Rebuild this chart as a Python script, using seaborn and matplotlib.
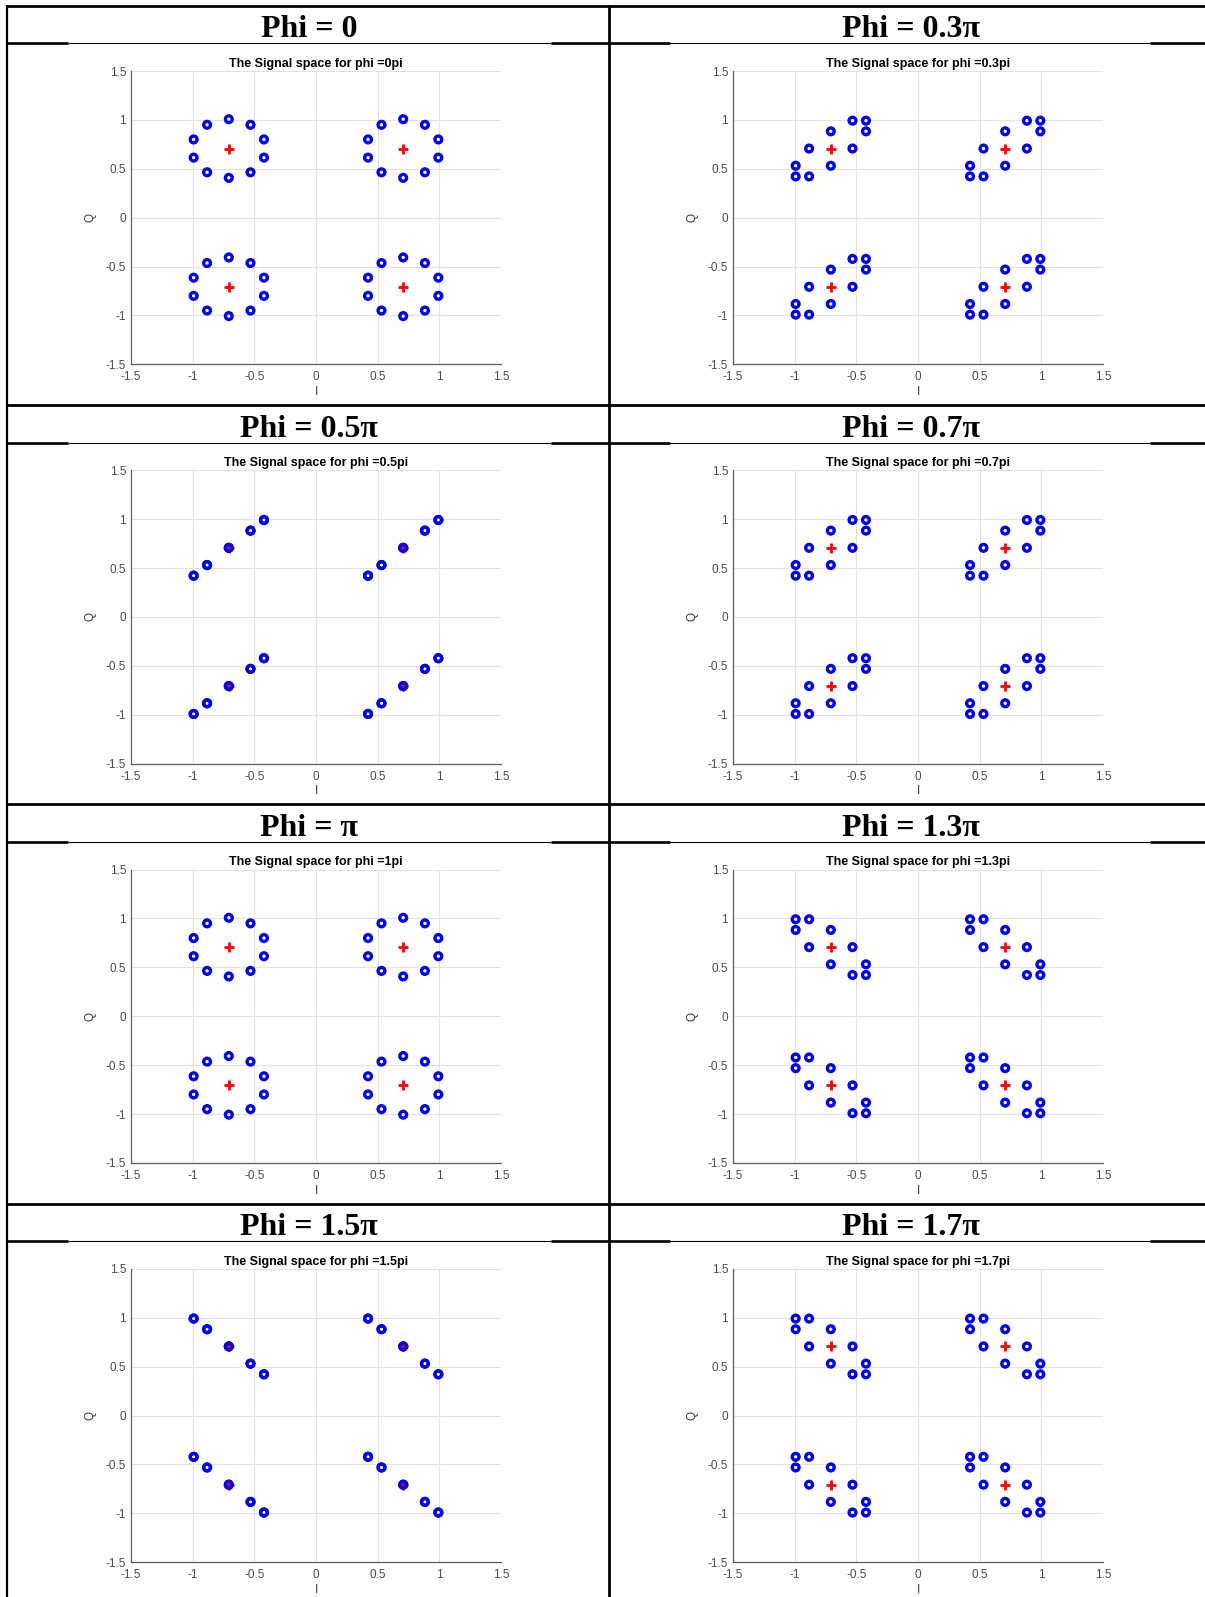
import numpy as np
import pandas as pd
import matplotlib
matplotlib.use("Agg")
import matplotlib.pyplot as plt
import seaborn as sns
from matplotlib.lines import Line2D

# ---------------- data ----------------
headers = ["Phi = 0", "Phi = 0.3\u03c0", "Phi = 0.5\u03c0", "Phi = 0.7\u03c0",
           "Phi = \u03c0", "Phi = 1.3\u03c0", "Phi = 1.5\u03c0", "Phi = 1.7\u03c0"]
titles = ["The Signal space for phi =0pi", "The Signal space for phi =0.3pi",
          "The Signal space for phi =0.5pi", "The Signal space for phi =0.7pi",
          "The Signal space for phi =1pi", "The Signal space for phi =1.3pi",
          "The Signal space for phi =1.5pi", "The Signal space for phi =1.7pi"]

# symbol centres (red +)
center_I = [-0.707, 0.707, -0.707, 0.707]
center_Q = [0.707, 0.707, -0.707, -0.707]

# offsets of the 10 blue points around each centre, per panel
off_I_0 = [0.0, -0.176, -0.285, -0.285, -0.176, 0.0, 0.176, 0.285, 0.285, 0.176]
off_Q_0 = [0.3, 0.243, 0.093, -0.093, -0.243, -0.3, -0.243, -0.093, 0.093, 0.243]
off_I_03 = [0.0, -0.176, -0.285, -0.285, -0.176, 0.0, 0.176, 0.285, 0.285, 0.176]
off_Q_03 = [0.176, 0.0, -0.176, -0.285, -0.285, -0.176, 0.0, 0.176, 0.285, 0.285]
off_I_05 = [0.0, -0.176, -0.285, -0.285, -0.176, 0.0, 0.176, 0.285, 0.285, 0.176]
off_Q_05 = [0.0, -0.176, -0.285, -0.285, -0.176, 0.0, 0.176, 0.285, 0.285, 0.176]
off_I_07 = [0.0, -0.176, -0.285, -0.285, -0.176, 0.0, 0.176, 0.285, 0.285, 0.176]
off_Q_07 = [-0.176, -0.285, -0.285, -0.176, 0.0, 0.176, 0.285, 0.285, 0.176, 0.0]
off_I_10 = [0.0, -0.176, -0.285, -0.285, -0.176, 0.0, 0.176, 0.285, 0.285, 0.176]
off_Q_10 = [-0.3, -0.243, -0.093, 0.093, 0.243, 0.3, 0.243, 0.093, -0.093, -0.243]
off_I_13 = [0.0, -0.176, -0.285, -0.285, -0.176, 0.0, 0.176, 0.285, 0.285, 0.176]
off_Q_13 = [-0.176, 0.0, 0.176, 0.285, 0.285, 0.176, 0.0, -0.176, -0.285, -0.285]
off_I_15 = [0.0, -0.176, -0.285, -0.285, -0.176, 0.0, 0.176, 0.285, 0.285, 0.176]
off_Q_15 = [0.0, 0.176, 0.285, 0.285, 0.176, 0.0, -0.176, -0.285, -0.285, -0.176]
off_I_17 = [0.0, -0.176, -0.285, -0.285, -0.176, 0.0, 0.176, 0.285, 0.285, 0.176]
off_Q_17 = [0.176, 0.285, 0.285, 0.176, 0.0, -0.176, -0.285, -0.285, -0.176, 0.0]

offsets = [(off_I_0, off_Q_0), (off_I_03, off_Q_03), (off_I_05, off_Q_05),
           (off_I_07, off_Q_07), (off_I_10, off_Q_10), (off_I_13, off_Q_13),
           (off_I_15, off_Q_15), (off_I_17, off_Q_17)]

tick_vals = [-1.5, -1, -0.5, 0, 0.5, 1, 1.5]
tick_labels = ["-1.5", "-1", "-0.5", "0", "0.5", "1", "1.5"]

# build long-form tables
rows = []
for p, (oi, oq) in enumerate(offsets):
    for ci, cq in zip(center_I, center_Q):
        for a, b in zip(oi, oq):
            rows.append({"panel": p, "I": ci + a, "Q": cq + b})
points = pd.DataFrame(rows)
centres = pd.DataFrame({"I": center_I, "Q": center_Q})

# ---------------- figure ----------------
sns.set_style("white")
plt.rcParams["font.family"] = ["Liberation Sans", "DejaVu Sans"]

W, H = 1205, 1597
fig = plt.figure(figsize=(W / 100, H / 100), dpi=100)
fig.patch.set_facecolor("white")

def fx(x):
    return x / W

def fy(y):
    return 1 - y / H

ROW = 399.3
COLX = [7, 609]
COLW = 602
serif = ["Liberation Serif", "DejaVu Serif"]

def hline(y, x0, x1, lw):
    fig.add_artist(Line2D([fx(x0), fx(x1)], [fy(y), fy(y)], color="black",
                          lw=lw, solid_capstyle="butt", zorder=10))

def vline(x, y0, y1, lw):
    fig.add_artist(Line2D([fx(x), fx(x)], [fy(y0), fy(y1)], color="black",
                          lw=lw, solid_capstyle="butt", zorder=10))

blue = "#0000e6"
red = "#ff0000"

for p in range(8):
    r, c = divmod(p, 2)
    x0 = 131 + c * COLW
    x1 = 501 + c * COLW
    yt = 71 + r * ROW
    yb = 364.3 + r * ROW
    ax = fig.add_axes([fx(x0), fy(yb), fx(x1) - fx(x0), (yb - yt) / H])
    sub = points[points["panel"] == p]
    sns.scatterplot(data=centres, x="I", y="Q", ax=ax, marker="+", s=52,
                    color=red, linewidth=2.0, zorder=3)
    sns.scatterplot(data=sub, x="I", y="Q", ax=ax, marker="o", s=24,
                    color=blue, facecolor="none", edgecolor=blue,
                    linewidth=2.4, zorder=4)
    ax.set_xlim(-1.5, 1.5)
    ax.set_ylim(-1.5, 1.5)
    ax.set_xticks(tick_vals)
    ax.set_xticklabels(tick_labels)
    ax.set_yticks(tick_vals)
    ax.set_yticklabels(tick_labels)
    ax.grid(True, color="#e2e2e2", lw=0.8)
    ax.set_axisbelow(True)
    for s in ["top", "right"]:
        ax.spines[s].set_visible(False)
    for s in ["left", "bottom"]:
        ax.spines[s].set_color("#5c5c5c")
        ax.spines[s].set_linewidth(0.9)
    ax.tick_params(direction="in", length=3, width=0.8, color="#5c5c5c",
                   labelcolor="#4a4a4a", labelsize=8.5)
    ax.tick_params(axis="x", pad=5)
    ax.tick_params(axis="y", pad=3.5)
    ax.set_xlabel("I", fontsize=8.5, color="#3a3a3a", labelpad=2)
    ax.set_ylabel("Q", fontsize=8.5, color="#3a3a3a", labelpad=7)
    ax.set_title(titles[p], fontsize=9, fontweight="bold", pad=3,
                 color="black")

    # header text
    cx = (COLX[c] + COLX[c] + COLW) / 2 + 1
    fig.text(fx(cx), fy(37.3 + r * ROW), headers[p], ha="center",
             va="baseline", fontsize=23, fontweight="bold", family=serif,
             color="black")

# table lines
for r in range(4):
    top = 5.7 + r * ROW
    hb = 43.3 + r * ROW
    hline(top, 7, W, 2.0)
    # header bottom: thick at edges, thin where the plot image overlaps
    hline(hb, 7, 68, 1.9)
    hline(hb, 68, 551, 0.8)
    hline(hb, 551, 670, 1.9)
    hline(hb, 670, 1150, 0.8)
    hline(hb, 1150, W, 1.9)
vline(7.5, 5, H, 1.6)
vline(609, 5, H, 2.0)

fig.savefig("out.png", dpi=100, facecolor="white")
